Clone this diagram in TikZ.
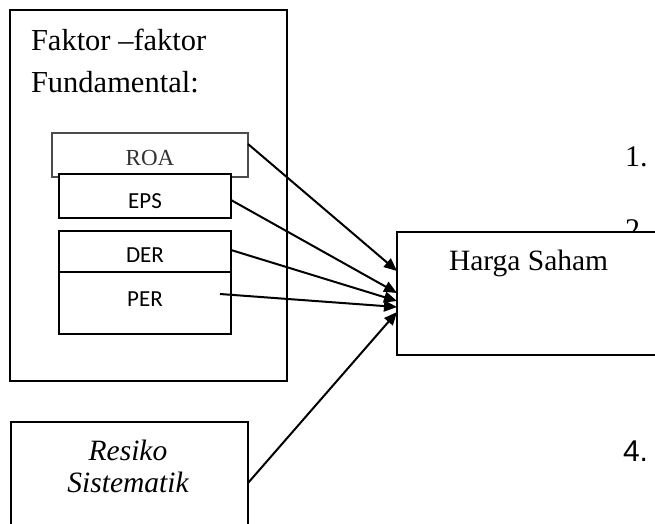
\documentclass[tikz,border=0pt]{standalone}
\usepackage{fontspec}
\setmainfont{Liberation Serif}
\newfontfamily\calibrifont{Carlito}
\newfontfamily\arialfont{Liberation Sans}
\usetikzlibrary{calc, positioning, arrows.meta}

\begin{document}
\begin{tikzpicture}[x=1pt, y=-1pt, inner sep=0pt, outer sep=0pt,
	box/.style={rectangle, draw=black, line width=2pt, fill=white, anchor=north west},
	bigtext/.style={font=\fontsize{30.5}{42}\selectfont},
	smalltext/.style={font=\calibrifont\fontsize{23}{28}\selectfont},
	numtext/.style={font=\fontsize{30}{36}\selectfont, anchor=base west},
	link/.style={line width=2pt, -{Triangle[length=13pt, width=11pt]}}]
	\clip (0,0) rectangle (655,523);
	\node (fund) [box, minimum width=277pt, minimum height=371pt] at (10,10) {};
	\node (fundlabel) [bigtext, align=left, anchor=base west] at ($(fund.north west)+(21,82)$) {Faktor –faktor\\Fundamental:};
	\node (roa) [box, draw=black!70, line width=1.4pt, minimum width=196pt, minimum height=44pt,
	             font=\fontsize{23}{28}\selectfont, text=black!80, text height=20pt, text depth=0pt] at (52,133) {ROA};
	\node (eps) [box, smalltext, minimum width=172pt, minimum height=44pt, text height=24pt, text depth=0pt] at (59,174) {EPS};
	\node (der) [box, smalltext, minimum width=172pt, minimum height=41pt, text height=21pt, text depth=0pt] at (59,231) {DER};
	\node (per) [box, smalltext, minimum width=172pt, minimum height=62pt, text height=15pt, text depth=9pt] at (59,272) {PER};
	\node (n1) [numtext] at (625,166) {1.};
	\node (n2) [numtext] at (625,239) {2.};
	\node (n4) [numtext, font=\arialfont\fontsize{30}{36}\selectfont] at (623,461) {4.};
	\node (hs) [box, minimum width=320pt, minimum height=123pt] at (397,232) {};
	\node (hslabel) [font=\fontsize{29.5}{36}\selectfont, anchor=base west] at ($(hs.north west)+(52,38)$) {Harga Saham};
	\node (risk) [box, minimum width=237pt, minimum height=150pt] at (11,422) {};
	\node (risklabel) [font=\itshape\fontsize{29.5}{32}\selectfont, align=center, anchor=base] at ($(risk.north west)+(117,70)$) {Resiko\\Sistematik};
	\draw[link] ($(roa.north east)+(0,11)$) -- ($(hs.north west)+(0,39)$);
	\draw[link] ($(eps.north east)+(0,26)$) -- ($(hs.north west)+(0,61)$);
	\draw[link] ($(der.north east)+(0,19)$) -- ($(hs.north west)+(0,69)$);
	\draw[link] ($(per.north east)+(-11,22)$) -- ($(hs.north west)+(0,75)$);
	\draw[link] ($(risk.north east)+(0,61)$) -- ($(hs.north west)+(0,80)$);
\end{tikzpicture}
\end{document}
